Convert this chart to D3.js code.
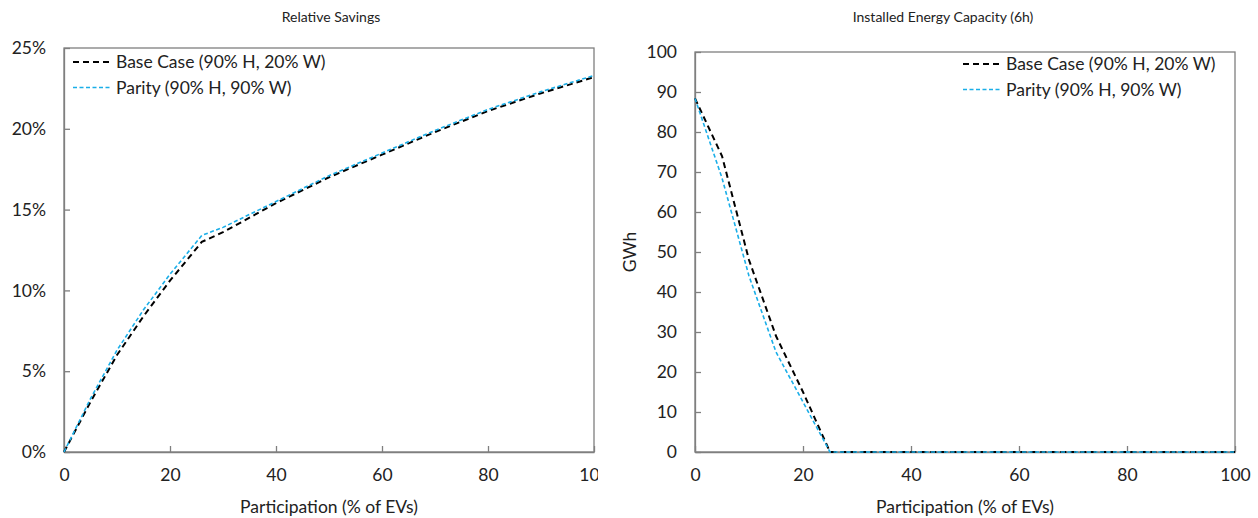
<!DOCTYPE html>
<html><head><meta charset="utf-8">
<script src="https://cdn.jsdelivr.net/npm/d3@7"></script>
<style>body{margin:0;background:#fff}svg{display:block;font-family:Lato,"Open Sans",sans-serif}</style>
</head><body>
<svg id="c" width="1258" height="518"></svg>
<script>
// ---- data ----
const seriesNames = ["Base Case (90% H, 20% W)", "Parity (90% H, 90% W)"];
const savingsX_base = [0,5,10,15,20,26,30,40,50,60,70,80,90,100];
const savingsBase   = [0,3.1,6.0,8.4,10.6,13.0,13.6,15.4,17.0,18.4,19.8,21.1,22.2,23.2];
const savingsX_par  = [0,5,10,15,20,26,30,40,50,60,70,80,90,100];
const savingsParity = [0,3.3,6.3,8.8,11.0,13.4,13.9,15.5,17.1,18.5,19.9,21.2,22.3,23.3];
const capX          = [0,5,10,15,20,25,30,40,50,60,70,80,90,100];
const capBase       = [88.4,74,48,29,15,0,0,0,0,0,0,0,0,0];
const capParity     = [88.4,68.5,44,25,12.5,0,0,0,0,0,0,0,0,0];
const xTicks = [0,20,40,60,80,100];
const leftYTicks = [0,5,10,15,20,25];
const rightYTicks = [0,10,20,30,40,50,60,70,80,90,100];
const titles = ["Relative Savings","Installed Energy Capacity (6h)"];
const xLabel = "Participation (% of EVs)";
const rightYLabel = "GWh";

const svg = d3.select("#c");
const styles = [
  {color:"#000000", dash:"6,4", width:2},
  {color:"#1aaee8", dash:"4,2.5", width:1.6}
];
const frame = "#7f7f7f";
const FS = 17.5;

svg.append("defs").append("clipPath").attr("id","leftClip")
  .append("rect").attr("x",0).attr("y",0).attr("width",598).attr("height",518);

function panel(g, opts){
  const x = d3.scaleLinear().domain([0,100]).range([opts.x0, opts.x1]);
  const y = d3.scaleLinear().domain(opts.yDomain).range([opts.y0, opts.y1]);
  g.append("rect").attr("x",opts.x0).attr("y",opts.y1).attr("width",opts.x1-opts.x0)
   .attr("height",opts.y0-opts.y1).attr("fill","none").attr("stroke",frame).attr("stroke-width",1.3);
  const xa = g.append("g").attr("transform",`translate(0,${opts.y0})`)
    .call(d3.axisBottom(x).tickValues(xTicks).tickSizeInner(-6).tickSizeOuter(0).tickPadding(17));
  xa.select(".domain").attr("stroke",frame).attr("stroke-width",1.3);
  xa.selectAll(".tick line").attr("stroke",frame).attr("stroke-width",1.3);
  xa.selectAll("text").attr("font-size",FS).attr("fill","#222").attr("font-family","Lato, sans-serif");
  const ya = g.append("g").attr("transform",`translate(${opts.x0},0)`)
    .call(d3.axisLeft(y).tickValues(opts.yTicks).tickFormat(opts.yFmt).tickSizeInner(-6).tickSizeOuter(0).tickPadding(18));
  ya.select(".domain").attr("stroke",frame).attr("stroke-width",1.3);
  ya.selectAll(".tick line").attr("stroke",frame).attr("stroke-width",1.3);
  ya.selectAll("text").attr("font-size",FS).attr("fill","#222").attr("font-family","Lato, sans-serif");
  opts.series.forEach((s,i)=>{
    const line = d3.line().x(d=>x(d[0])).y(d=>y(d[1]));
    g.append("path").datum(s.xs.map((v,k)=>[v,s.ys[k]]))
     .attr("d",line).attr("fill","none").attr("stroke",styles[i].color)
     .attr("stroke-width",styles[i].width).attr("stroke-dasharray",styles[i].dash);
  });
  seriesNames.forEach((n,i)=>{
    const ly = opts.legY + i*25.5;
    g.append("line").attr("x1",opts.legX).attr("x2",opts.legX+37).attr("y1",ly).attr("y2",ly)
      .attr("stroke",styles[i].color).attr("stroke-width",styles[i].width).attr("stroke-dasharray",styles[i].dash);
    g.append("text").attr("x",opts.legX+43).attr("y",ly).attr("dy","0.35em")
      .attr("font-size",FS).attr("fill","#222").text(n);
  });
  g.append("text").attr("x",opts.titleX).attr("y",22).attr("text-anchor","middle")
    .attr("font-size",14).attr("fill","#222").text(opts.title);
  g.append("text").attr("x",(opts.x0+opts.x1)/2).attr("y",513).attr("text-anchor","middle")
    .attr("font-size",FS).attr("fill","#222").text(xLabel);
  if(opts.yLabel){
    g.append("text").attr("transform",`translate(${opts.yLabelX},${(opts.y0+opts.y1)/2}) rotate(-90)`)
      .attr("text-anchor","middle").attr("font-size",FS).attr("fill","#222").text(opts.yLabel);
  }
}

const gl = svg.append("g").attr("clip-path","url(#leftClip)");
panel(gl,{x0:64,x1:594,y0:452,y1:48,yDomain:[0,25],yTicks:leftYTicks,yFmt:d=>d+"%",
  series:[{xs:savingsX_base,ys:savingsBase},{xs:savingsX_par,ys:savingsParity}],
  legX:73,legY:62,titleX:331,title:titles[0]});

const gr = svg.append("g");
panel(gr,{x0:695,x1:1235,y0:452,y1:52,yDomain:[0,100],yTicks:rightYTicks,yFmt:d=>d,
  series:[{xs:capX,ys:capBase},{xs:capX,ys:capParity}],
  legX:963,legY:64,titleX:943,title:titles[1],yLabel:rightYLabel,yLabelX:636});
</script>
</body></html>
